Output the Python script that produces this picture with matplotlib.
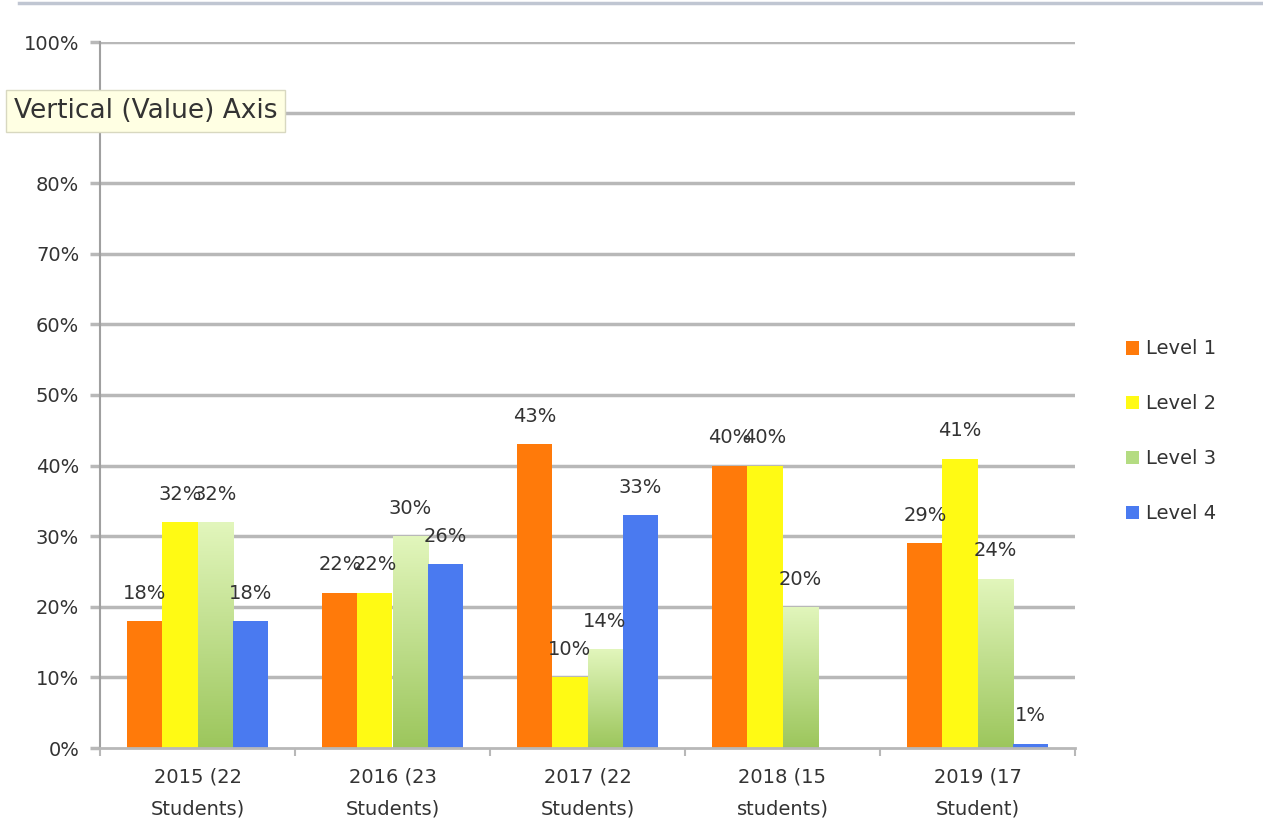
import numpy as np
import matplotlib
matplotlib.use('Agg')
import matplotlib.pyplot as plt
from matplotlib.lines import Line2D
from matplotlib.patches import Patch

categories = ['2015 (22\nStudents)', '2016 (23\nStudents)', '2017 (22\nStudents)',
              '2018 (15\nstudents)', '2019 (17\nStudent)']
levels = ['Level 1', 'Level 2', 'Level 3', 'Level 4']
level1 = [18, 22, 43, 40, 29]
level2 = [32, 22, 10, 40, 41]
level3 = [32, 30, 14, 20, 24]
level4 = [18, 26, 33, 0, 0.6]
yticks = [0, 10, 20, 30, 40, 50, 60, 70, 80, 90, 100]

colors = ['#FF7A0A', '#FFFA14', '#B4DC82', '#4A7AF0']
grid_col = '#B8B8B8'
txt_col = '#333333'

plt.rcParams['font.family'] = ['DejaVu Sans']
fig = plt.figure(figsize=(12.63, 8.40), dpi=100)
ax = fig.add_axes([100 / 1263, 1 - 748 / 840, 975 / 1263, 706 / 840])

x = np.arange(len(categories))
w = 0.18
series = [level1, level2, level3, level4]

for yv in yticks[1:]:
    ax.axhline(yv, color=grid_col, lw=2.5, zorder=0)

for i, vals in enumerate(series):
    pos = x + (i - 1.5) * w
    bars = ax.bar(pos, vals, w, color=colors[i], zorder=2, linewidth=0)
    if i == 2:
        # light-to-green gradient on Level 3
        grad = np.linspace(0, 1, 256).reshape(-1, 1)
        cmap = matplotlib.colors.LinearSegmentedColormap.from_list('g', ['#9CC65C', '#E2F6BC'])
        for b in bars:
            b.set_facecolor('none')
            im = ax.imshow(grad, cmap=cmap, aspect='auto', origin='lower', zorder=2,
                           extent=[b.get_x(), b.get_x() + b.get_width(), 0, b.get_height()])
            im.set_clip_path(b)
    for p, v in zip(pos, vals):
        if v > 0:
            ax.annotate('%d%%' % round(v + 0.4), (p, v), xytext=(0, 20), textcoords='offset points',
                        ha='center', va='center', fontsize=14, color=txt_col, zorder=3)

ax.set_xlim(-0.5, len(categories) - 0.5)
ax.set_ylim(0, 100)
ax.set_yticks(yticks)
ax.set_yticklabels(['%d%%' % t for t in yticks])
ax.set_xticks(x)
ax.set_xticklabels(categories, linespacing=1.9)
ax.set_xticks(np.arange(-0.5, len(categories)), minor=True)
ax.tick_params(axis='x', which='major', length=0, pad=14, labelsize=14, labelcolor=txt_col)
ax.tick_params(axis='x', which='minor', length=6, color=grid_col, width=1.5)
ax.tick_params(axis='y', length=7, color=grid_col, width=2.5, pad=8, labelsize=14, labelcolor=txt_col)
for s in ['top', 'right']:
    ax.spines[s].set_visible(False)
ax.spines['left'].set_color('#A0A0A0')
ax.spines['left'].set_linewidth(1.5)
ax.spines['bottom'].set_color(grid_col)
ax.spines['bottom'].set_linewidth(2)

handles = [Patch(facecolor=c, edgecolor='none') for c in colors]
fig.legend(handles, levels, loc='upper left', bbox_to_anchor=(1108 / 1263, 1 - 322 / 840),
           frameon=False, fontsize=14, handlelength=0.7, handleheight=0.7,
           handletextpad=0.35, labelspacing=1.85, labelcolor=txt_col)

# tooltip box
fig.text(14 / 1263, 1 - 111 / 840, 'Vertical (Value) Axis', fontsize=19, color=txt_col,
         va='center', ha='left', zorder=5,
         bbox=dict(boxstyle='square,pad=0.3', facecolor='#FFFFE3', edgecolor='#D8D8C0'))

fig.add_artist(Line2D([0.015, 1.0], [1 - 3 / 840, 1 - 3 / 840], color='#C0C6D2', lw=2.5))

fig.savefig('out.png', dpi=100)
